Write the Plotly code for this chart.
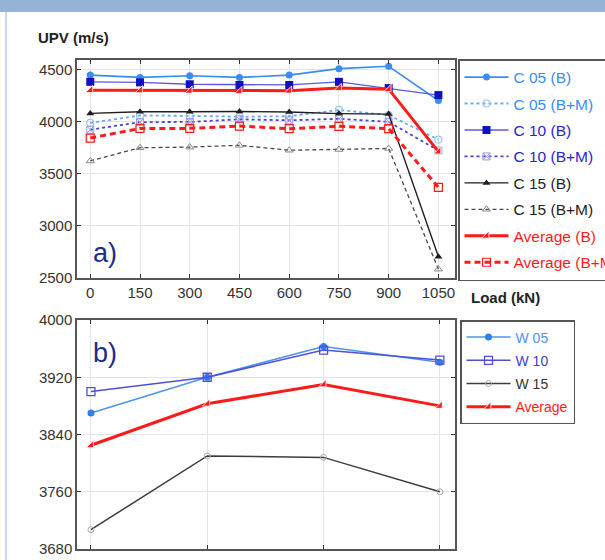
import plotly.graph_objects as go

# ---------------- data ----------------
loads = [0, 150, 300, 450, 600, 750, 900, 1050]
c05_b = [4450, 4428, 4443, 4428, 4450, 4512, 4535, 4205]
c05_bm = [3990, 4062, 4058, 4050, 4055, 4115, 4065, 3830]
c10_b = [4385, 4380, 4362, 4355, 4355, 4385, 4325, 4258]
c10_bm = [3925, 3998, 4000, 4025, 4015, 4030, 4000, 3725]
c15_b = [4082, 4097, 4097, 4100, 4095, 4080, 4075, 2705]
c15_bm = [3625, 3752, 3758, 3775, 3728, 3735, 3745, 2585]
avg_b = [4305, 4303, 4300, 4295, 4300, 4325, 4315, 3715]
avg_bm = [3845, 3937, 3938, 3960, 3935, 3958, 3935, 3370]

w_x = [0, 1, 2, 3]
w05 = [3870, 3920, 3963, 3941]
w10 = [3900, 3920, 3958, 3944]
w15 = [3707, 3810, 3808, 3760]
w_avg = [3825, 3883, 3910, 3880]

top_yticks = [2500, 3000, 3500, 4000, 4500]
bot_yticks = [3680, 3760, 3840, 3920, 4000]

# ---------------- layout geometry ----------------
W, H = 605, 560
ML, MR, MT, MB = 77, 150, 60, 11
PW = W - ML - MR
PH = H - MT - MB


def px(x):
    return (x - ML) / PW


def py(y):
    return (H - MB - y) / PH


LBLUE = "#3a8cf2"
BLUE = "#2626cf"
BLUE_L = "#5a5ae0"
BLACK = "#1e1e1e"
GRAY = "#4a4a4a"
RED = "#ff1a1a"
FONT = "Liberation Sans, Arial, sans-serif"


def lname(text, color):
    return '<span style="color:%s">%s</span>' % (color, text)


fig = go.Figure()

top_series = [
    ("C 05 (B)", c05_b, LBLUE, 1.6, "solid", dict(symbol="circle", size=7, color=LBLUE), LBLUE),
    ("C 05 (B+M)", c05_bm, "#6aa8f5", 1.8, "dot", dict(symbol="circle-open", size=7, color="#9cc5f7", line=dict(width=1.2)), LBLUE),
    ("C 10 (B)", c10_b, BLUE_L, 1.3, "solid", dict(symbol="square", size=8, color="#1010c0"), BLUE),
    ("C 10 (B+M)", c10_bm, "#4545dd", 1.8, "dot", dict(symbol="square-x-open", size=7, color="#9a9ae8", line=dict(width=1)), BLUE),
    ("C 15 (B)", c15_b, BLACK, 1.4, "solid", dict(symbol="triangle-up", size=7, color=BLACK), BLACK),
    ("C 15 (B+M)", c15_bm, GRAY, 1.3, "4px,3px", dict(symbol="triangle-up-open", size=7, color="#888888", line=dict(width=1)), BLACK),
    ("Average (B)", avg_b, RED, 3, "solid", dict(symbol="triangle-se", size=8, color=RED, line=dict(color="white", width=0.8)), RED),
    ("Average (B+M)", avg_bm, RED, 3, "6px,4px", dict(symbol="square-open", size=8, color=RED, line=dict(width=1.2)), RED),
]

for i, (nm, ys, col, lw, dash, mk, tcol) in enumerate(top_series):
    fig.add_trace(go.Scatter(
        x=loads, y=ys, name=lname(nm, tcol), mode="lines+markers",
        line=dict(color=col, width=lw, dash=dash), marker=mk,
        xaxis="x", yaxis="y", legend="legend", legendgroup="t%d" % i,
        hoverinfo="skip"))

bot_series = [
    ("W 05", w05, "#4a94f2", 1.5, dict(symbol="circle", size=7, color="#2f7ff0"), "#4a94f2"),
    ("W 10", w10, "#4f4fd8", 1.5, dict(symbol="square-open", size=8, color="#4f4fd8", line=dict(width=1.3)), "#4040d0"),
    ("W 15", w15, "#3c3c3c", 1.5, dict(symbol="circle-open", size=6, color="#aaaaaa", line=dict(width=1)), "#333333"),
    ("Average", w_avg, RED, 3, dict(symbol="triangle-se", size=8, color=RED, line=dict(color="white", width=0.8)), RED),
]

for i, (nm, ys, col, lw, mk, tcol) in enumerate(bot_series):
    fig.add_trace(go.Scatter(
        x=w_x, y=ys, name=lname(nm, tcol), mode="lines+markers",
        line=dict(color=col, width=lw), marker=mk,
        xaxis="x2", yaxis="y2", legend="legend2", legendgroup="b%d" % i,
        hoverinfo="skip"))

axis_common = dict(
    showline=True, mirror="ticks", linecolor="#555555", linewidth=1.5,
    ticks="inside", ticklen=4, tickcolor="#333333", tickwidth=1,
    showgrid=True, gridcolor="#e4e4e4", gridwidth=1, zeroline=False,
    tickfont=dict(family=FONT, size=15, color="#333333"),
)

fig.update_layout(
    width=W, height=H,
    margin=dict(l=ML, r=MR, t=MT, b=MB, autoexpand=False),
    paper_bgcolor="white", plot_bgcolor="white",
    font=dict(family=FONT, size=15, color="#333333"),
    showlegend=True,
    xaxis=dict(axis_common, domain=[0, 1], range=[-40, 1100],
               tickvals=loads, anchor="y"),
    yaxis=dict(axis_common, domain=[py(278), 1], range=[2500, 4595],
               tickvals=top_yticks, anchor="x"),
    xaxis2=dict(axis_common, domain=[0, 1], range=[-0.12, 3.13],
                tickvals=w_x, showticklabels=False, anchor="y2"),
    yaxis2=dict(axis_common, domain=[0, py(320)], range=[3680, 4000],
                tickvals=bot_yticks, anchor="x2"),
    legend=dict(x=px(458), y=py(59), xanchor="left", yanchor="top",
                bgcolor="white", bordercolor="#555555", borderwidth=1.5,
                font=dict(family=FONT, size=15.5), tracegroupgap=3.3,
                traceorder="grouped", itemwidth=44),
    legend2=dict(x=px(460), y=py(320), xanchor="left", yanchor="top",
                 bgcolor="white", bordercolor="#555555", borderwidth=1.5,
                 font=dict(family=FONT, size=14), tracegroupgap=2,
                 traceorder="grouped", itemwidth=44),
    shapes=[
        dict(type="rect", xref="paper", yref="paper",
             x0=px(0), x1=px(W), y0=py(12), y1=py(0),
             fillcolor="#95b3d7", line=dict(width=0), layer="above"),
        dict(type="line", xref="paper", yref="paper",
             x0=px(6), x1=px(6), y0=py(H), y1=py(12),
             line=dict(color="#a9c3e6", width=1.2)),
    ],
    annotations=[
        dict(text="<b>UPV (m/s)</b>", xref="paper", yref="paper",
             x=px(36), y=py(38), xanchor="left", yanchor="middle",
             showarrow=False, font=dict(family=FONT, size=15, color="#222222")),
        dict(text="<b>Load (kN)</b>", xref="paper", yref="paper",
             x=px(469), y=py(297), xanchor="left", yanchor="middle",
             showarrow=False, font=dict(family=FONT, size=15, color="#222222")),
        dict(text="a)", xref="paper", yref="paper",
             x=px(91), y=py(253), xanchor="left", yanchor="middle",
             showarrow=False, font=dict(family=FONT, size=27, color="#1c2c8c")),
        dict(text="b)", xref="paper", yref="paper",
             x=px(91), y=py(353), xanchor="left", yanchor="middle",
             showarrow=False, font=dict(family=FONT, size=27, color="#1c2c8c")),
    ],
)

fig.write_html("out.html")
